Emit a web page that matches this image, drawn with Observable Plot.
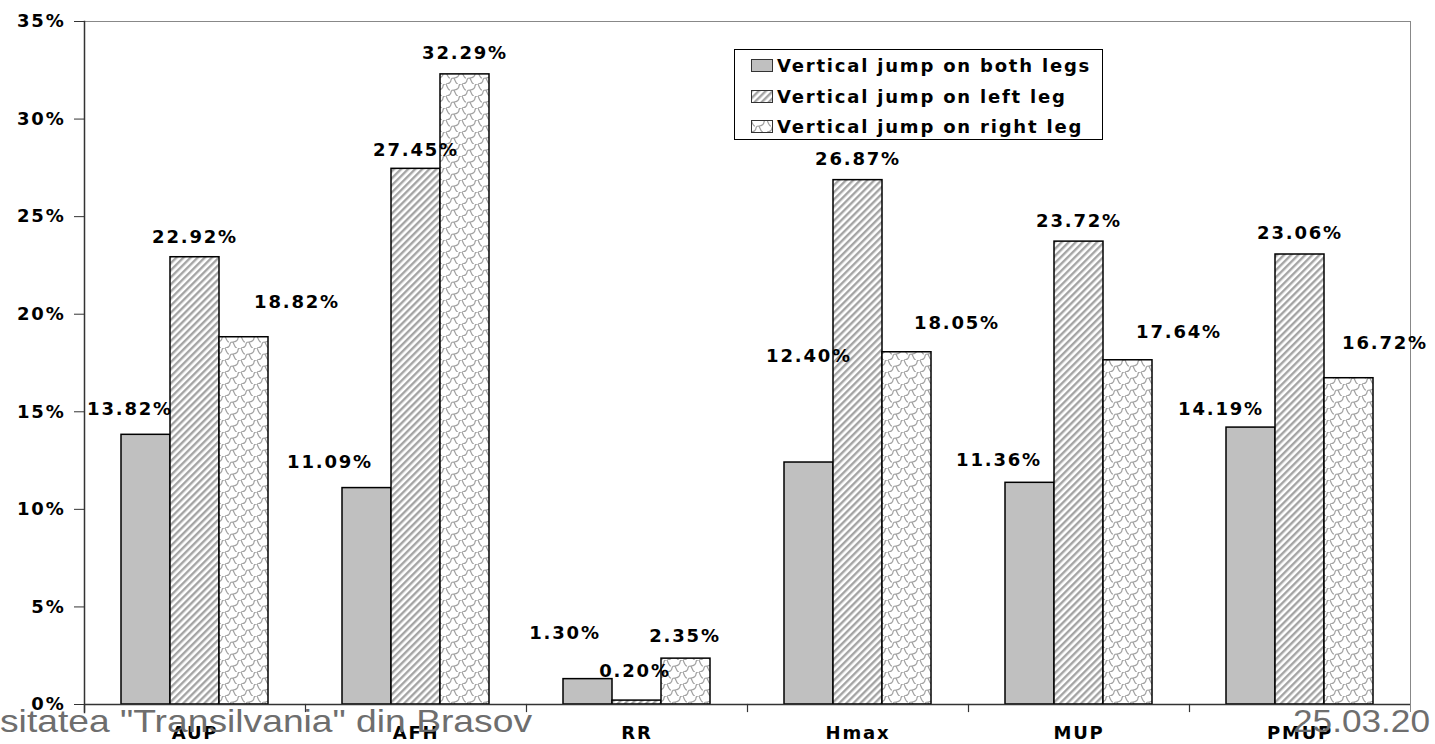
<!DOCTYPE html>
<html>
<head>
<meta charset="utf-8">
<script src="https://cdn.jsdelivr.net/npm/d3@7"></script>
<script src="https://cdn.jsdelivr.net/npm/@observablehq/plot@0.6"></script>
<style>
  body { margin: 0; background: #fff; }
  #wrap { position: relative; width: 1435px; height: 744px; overflow: hidden; background: #fff; }
  #legend { position: absolute; left: 734px; top: 49px; width: 367px; height: 89px; border: 1px solid #000; background: #fff;
            font-family: "DejaVu Sans", sans-serif; font-weight: bold; font-size: 18px; letter-spacing: 1.8px; color: #000; }
  #legend .row { position: absolute; left: 16px; height: 24px; display: flex; align-items: center; white-space: nowrap; }
  #legend .row svg { margin-right: 4px; display: block; }
  #footer { position: absolute; left: 0; top: 0; pointer-events: none; }
</style>
</head>
<body>
<svg width="0" height="0" style="position:absolute">
  <defs>
    <pattern id="pLeft" patternUnits="userSpaceOnUse" width="5" height="5" patternTransform="rotate(45)">
      <rect width="5" height="5" fill="#fff"/>
      <rect x="0" y="0" width="2.4" height="5" fill="#a4a4a4"/>
    </pattern>
    <pattern id="pRight" patternUnits="userSpaceOnUse" width="16" height="12">
      <rect width="16" height="12" fill="#fff"/>
      <path d="M0,12 C3,12 5,10 5,8 C5,6 7,6 8,6 C11,6 13,4 13,2 C13,0 15,0 16,0 M8,6 C9,8 10,12 12,12 M-8,6 C-7,8 -6,12 -4,12 M0,0 C1,2 2,6 4,6" fill="none" stroke="#a0a0a0" stroke-width="1.2"/>
    </pattern>
  </defs>
</svg>
<div id="wrap"></div>
<script>
// ---- data ----
const categories = ["AUP", "AFH", "RR", "Hmax", "MUP", "PMUP"];
const seriesNames = ["Vertical jump on both legs", "Vertical jump on left leg", "Vertical jump on right leg"];
const bothLegs  = [13.82, 11.09, 1.30, 12.40, 11.36, 14.19];
const leftLeg   = [22.92, 27.45, 0.20, 26.87, 23.72, 23.06];
const rightLeg  = [18.82, 32.29, 2.35, 18.05, 17.64, 16.72];
const yTicks = [0, 5, 10, 15, 20, 25, 30, 35];
const footerLeft = "sitatea \"Transilvania\" din Brasov";
const footerRight = "25.03.20";

// ---- styling (label nudges in px, as placed in the original) ----
const labelDx = [[-16, -37, -23, 0, -31, -30], [0, 0, -2, 0, 0, 0], [53, 0, -1, 50, 51, 36]];
const labelDy = [[-26, -26, -46, -106, -23, -18], [-20, -19, -29, -21, -20, -21], [-35, -21, -22, -29, -28, -35]];
const seriesFills = ["#c0c0c0", "url(#pLeft)", "url(#pRight)"];

const seriesValues = [bothLegs, leftLeg, rightLeg];
const rows = [];
seriesValues.forEach((arr, s) => arr.forEach((v, i) =>
  rows.push({cat: categories[i], series: seriesNames[s], s, i, value: v})));

const marks = [
  ...seriesNames.map((name, s) => Plot.barY(rows.filter(d => d.s === s), {
    fx: "cat", x: "series", y: "value", fill: seriesFills[s], stroke: "#000", strokeWidth: 1.5
  })),
  Plot.ruleY([0], {stroke: "#333", strokeWidth: 1.5}),
  Plot.ruleY([35], {stroke: "#888", strokeWidth: 1}),
  Plot.frame({anchor: "left", facetAnchor: "left", stroke: "#333", strokeWidth: 1.5, insetBottom: -8}),
  Plot.frame({anchor: "right", facetAnchor: "right", stroke: "#888", strokeWidth: 1, insetBottom: -7}),
  Plot.frame({anchor: "left", stroke: "#333", strokeWidth: 1.2, insetTop: 683, insetBottom: -7}),
  Plot.axisY({ticks: yTicks, tickFormat: d => d + "%", tickSize: 10, tickPadding: 9, label: null,
               facetAnchor: "left", stroke: "#333", fill: "#000", fontWeight: "bold", fontSize: 18}),
  Plot.axisFx({anchor: "bottom", tickSize: 0, tickPadding: 22, label: null, fill: "#000", fontWeight: "bold", fontSize: 18}),
  ...rows.map(d => Plot.text([d], {
    fx: "cat", x: "series", y: "value",
    text: r => r.value.toFixed(2) + "%",
    dx: labelDx[d.s][d.i], dy: labelDy[d.s][d.i],
    fill: "#000", fontWeight: "bold", fontSize: 18
  }))
];

const chart = Plot.plot({
  width: 1435, height: 744,
  marginLeft: 83, marginRight: 24, marginTop: 21, marginBottom: 40,
  fx: {domain: categories, padding: 0, axis: null, label: null},
  x: {domain: seriesNames, paddingInner: 0, paddingOuter: 0.745, axis: null},
  y: {domain: [0, 35], axis: null},
  style: {fontFamily: "DejaVu Sans, sans-serif", fontSize: "18px", fontWeight: "bold", letterSpacing: "1.8px", background: "#fff", color: "#000"},
  marks
});
const wrap = document.getElementById("wrap");
wrap.appendChild(chart);

// legend (inside plot area, as in the original)
const legend = document.createElement("div");
legend.id = "legend";
const rowTops = [3.5, 34.5, 64];
seriesNames.forEach((name, s) => {
  const row = document.createElement("div");
  row.className = "row";
  row.style.top = rowTops[s] + "px";
  row.innerHTML = `<svg width="22" height="13"><rect x="0.5" y="0.5" width="21" height="12" fill="${seriesFills[s]}" stroke="#333" stroke-width="1"/></svg><span>${name}</span>`;
  legend.appendChild(row);
});
wrap.appendChild(legend);

// slide footer text overlapping the chart
const ns = "http://www.w3.org/2000/svg";
const footer = document.createElementNS(ns, "svg");
footer.setAttribute("id", "footer");
footer.setAttribute("width", 1435);
footer.setAttribute("height", 744);
[[footerLeft, 0, 532], [footerRight, 1293, 137]].forEach(([t, x, len]) => {
  const el = document.createElementNS(ns, "text");
  el.setAttribute("x", x);
  el.setAttribute("y", 732);
  el.setAttribute("font-family", "Liberation Sans, Arial, sans-serif");
  el.setAttribute("font-size", 32);
  el.setAttribute("fill", "#6e6e6e");
  el.setAttribute("textLength", len);
  el.setAttribute("lengthAdjust", "spacingAndGlyphs");
  el.textContent = t;
  footer.appendChild(el);
});
wrap.appendChild(footer);
</script>
</body>
</html>
